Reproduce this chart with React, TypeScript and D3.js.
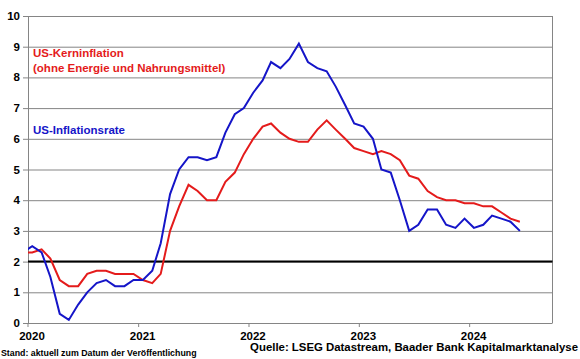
import React, { useEffect, useRef } from 'react'
import * as d3 from 'd3'

// monthly y/y rates in %, Dec 2019 .. Jun 2024
const firstMonth = '2019-12-15'
const headlineCpi = [
    2.3,
    2.5, 2.3, 1.5, 0.3, 0.1, 0.6, 1.0, 1.3, 1.4, 1.2, 1.2, 1.4, // 2020
    1.4, 1.7, 2.6, 4.2, 5.0, 5.4, 5.4, 5.3, 5.4, 6.2, 6.8, 7.0, // 2021
    7.5, 7.9, 8.5, 8.3, 8.6, 9.1, 8.5, 8.3, 8.2, 7.7, 7.1, 6.5, // 2022
    6.4, 6.0, 5.0, 4.9, 4.0, 3.0, 3.2, 3.7, 3.7, 3.2, 3.1, 3.4, // 2023
    3.1, 3.2, 3.5, 3.4, 3.3, 3.0                                // 2024
]
const coreCpi = [
    2.3,
    2.3, 2.4, 2.1, 1.4, 1.2, 1.2, 1.6, 1.7, 1.7, 1.6, 1.6, 1.6,
    1.4, 1.3, 1.6, 3.0, 3.8, 4.5, 4.3, 4.0, 4.0, 4.6, 4.9, 5.5,
    6.0, 6.4, 6.5, 6.2, 6.0, 5.9, 5.9, 6.3, 6.6, 6.3, 6.0, 5.7,
    5.6, 5.5, 5.6, 5.5, 5.3, 4.8, 4.7, 4.3, 4.1, 4.0, 4.0, 3.9,
    3.9, 3.8, 3.8, 3.6, 3.4, 3.3
]
const yearTicks = ['2020', '2021', '2022', '2023', '2024']
const yTicks = [0, 1, 2, 3, 4, 5, 6, 7, 8, 9, 10]
const targetRate = 2

const RED = '#e41b1b'
const BLUE = '#1515c8'

export default function App() {
    const ref = useRef<SVGSVGElement>(null)

    useEffect(() => {
        const svg = d3.select(ref.current)
        svg.selectAll('*').remove()

        const left = 28, right = 552.5, top = 16, bottom = 323
        const x = d3.scaleTime()
            .domain([new Date(2020, 0, 1), new Date(2024, 9, 1)])
            .range([left, right])
        const y = d3.scaleLinear().domain([0, 10]).range([bottom, top])

        const start = new Date(firstMonth)
        const months = headlineCpi.map((_, i) => new Date(start.getFullYear(), start.getMonth() + i, 15))

        svg.append('defs').append('clipPath').attr('id', 'plot')
            .append('rect').attr('x', left).attr('y', top - 5)
            .attr('width', right - left).attr('height', bottom - top + 5)

        //grid lines
        svg.append('g').selectAll('line')
            .data(yTicks.filter(d => d > 0))
            .enter().append('line')
            .attr('x1', left - 5).attr('x2', right)
            .attr('y1', d => y(d) + 0.5).attr('y2', d => y(d) + 0.5)
            .style('stroke', '#858585').style('stroke-width', 1)

        // frame
        svg.append('line').attr('x1', right).attr('x2', right).attr('y1', top).attr('y2', bottom)
            .style('stroke', '#858585')
        svg.append('line').attr('x1', left + 0.5).attr('x2', left + 0.5).attr('y1', top).attr('y2', bottom + 0.5)
            .style('stroke', '#858585')
        svg.append('line').attr('x1', left - 5).attr('x2', right).attr('y1', bottom + 0.5).attr('y2', bottom + 0.5)
            .style('stroke', '#858585')

        // x ticks
        svg.append('g').selectAll('line')
            .data(yearTicks)
            .enter().append('line')
            .attr('x1', d => x(new Date(+d, 0, 1))).attr('x2', d => x(new Date(+d, 0, 1)))
            .attr('y1', bottom).attr('y2', bottom + 4)
            .style('stroke', '#858585')

        //y labels
        svg.append('g').selectAll('text')
            .data(yTicks)
            .enter().append('text')
            .attr('x', 20).attr('y', d => y(d) + 4)
            .attr('text-anchor', 'end')
            .style('font', 'bold 11.5px "Liberation Sans", Arial, sans-serif')
            .text(d => d)

        //x labels
        svg.append('g').selectAll('text')
            .data(yearTicks)
            .enter().append('text')
            .attr('x', d => x(new Date(+d, 0, 1)) + 4).attr('y', 340)
            .attr('text-anchor', 'middle')
            .style('font', 'bold 11.5px "Liberation Sans", Arial, sans-serif')
            .text(d => d)

        // 2% line
        svg.append('line').attr('x1', left).attr('x2', right)
            .attr('y1', y(targetRate)).attr('y2', y(targetRate))
            .style('stroke', '#000').style('stroke-width', 2)

        const line = d3.line<number>()
            .x((d, i) => x(months[i]))
            .y(d => y(d))

        svg.append('path').datum(coreCpi)
            .attr('d', line).attr('clip-path', 'url(#plot)')
            .style('fill', 'none').style('stroke', RED).style('stroke-width', 2)
        svg.append('path').datum(headlineCpi)
            .attr('d', line).attr('clip-path', 'url(#plot)')
            .style('fill', 'none').style('stroke', BLUE).style('stroke-width', 2)

        const labelFont = 'bold 11.5px "Liberation Sans", Arial, sans-serif'
        svg.append('text').attr('x', 33).attr('y', 57).style('font', labelFont).style('fill', RED)
            .text('US-Kerninflation')
        svg.append('text').attr('x', 33).attr('y', 72).style('font', labelFont).style('fill', RED)
            .text('(ohne Energie und Nahrungsmittel)')
        svg.append('text').attr('x', 33).attr('y', 134).style('font', labelFont).style('fill', BLUE)
            .text('US-Inflationsrate')

        svg.append('text').attr('x', 1).attr('y', 356)
            .style('font', 'bold 8.8px "Liberation Sans", Arial, sans-serif')
            .text('Stand: aktuell zum Datum der Veröffentlichung')
        svg.append('text').attr('x', 578).attr('y', 351).attr('text-anchor', 'end')
            .style('font', 'bold 11.4px "Liberation Sans", Arial, sans-serif')
            .text('Quelle: LSEG Datastream, Baader Bank Kapitalmarktanalyse')
    }, [])

    return (
        <svg ref={ref} width={580} height={359}
            style={{ position: 'absolute', left: 0, top: 0, background: '#fff' }} />
    )
}
